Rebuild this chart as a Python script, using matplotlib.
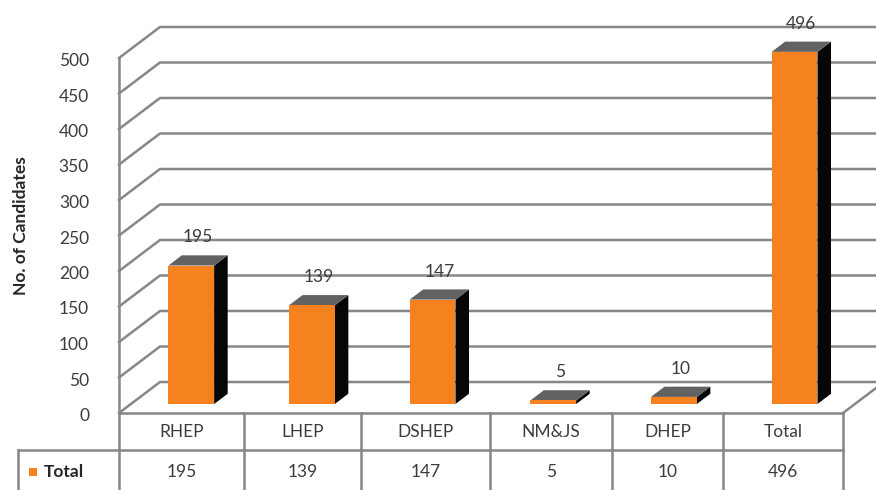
import matplotlib.pyplot as plt
from matplotlib.patches import Polygon, Rectangle

# data
categories = ['RHEP', 'LHEP', 'DSHEP', 'NM&JS', 'DHEP', 'Total']
totals = [195, 139, 147, 5, 10, 496]
series_name = 'Total'
y_ticks = list(range(0, 501, 50))
y_title = 'No. of Candidates'

orange = '#F5821F'
top_grey = '#626262'
side_black = '#060606'
grid_grey = '#878787'
text_grey = '#3C3C3C'

plt.rcParams['font.family'] = ['Lato', 'DejaVu Sans']

W, H = 876, 490
fig = plt.figure(figsize=(W / 100, H / 100), dpi=100)

# overlay in pixel units for the data table and axis title
ov = fig.add_axes([0, 0, 1, 1])
ov.set_xlim(0, W)
ov.set_ylim(H, 0)
ov.axis('off')

# front plane of the plot area, in pixels
x0, x1 = 119, 843
y0, y1 = 413, 58
ax = fig.add_axes([x0 / W, (H - y0) / H, (x1 - x0) / W, (y0 - y1) / H])
ax.set_xlim(0, len(categories))
ax.set_ylim(0, 500)
ax.axis('off')
ax.patch.set_alpha(0)

px_x = len(categories) / (x1 - x0)
px_y = 500 / (y0 - y1)
ddx = 41 * px_x   # depth offset of the back wall
ddy = 31 * px_y


def proj(x, v, d):
    return (x + ddx * d, v + ddy * d)


n = len(categories)
lw = 1.8

# side wall + back wall gridlines
for v in y_ticks:
    fx, fy = proj(0, v, 0)
    bx, by = proj(0, v, 1)
    ex, _ = proj(n, v, 1)
    ax.plot([fx, bx, ex], [fy, by, by], color=grid_grey, lw=lw,
            clip_on=False, zorder=1, solid_joinstyle='miter')

# front vertical axis and right floor edge
ax.plot([0, 0], [0, 500], color=grid_grey, lw=lw, clip_on=False, zorder=1)
rx0, ry0 = proj(n, 0, 0)
rx1, ry1 = proj(n, 0, 1)
ax.plot([rx0, rx1], [ry0, ry1], color=grid_grey, lw=lw, clip_on=False, zorder=1)

# tick labels
for v in y_ticks:
    ax.annotate(str(v), xy=(0, v), xytext=(-30, -3), textcoords='offset pixels',
                ha='right', va='center', fontsize=12.5, color=text_grey,
                annotation_clip=False)

# 3d bars
d0, d1 = 0.29, 0.62
bw = 0.38
for i, val in enumerate(totals):
    xl = i + 0.5 - bw / 2
    xr = i + 0.5 + bw / 2
    side = [proj(xr, 0, d0), proj(xr, 0, d1), proj(xr, val, d1), proj(xr, val, d0)]
    top = [proj(xl, val, d0), proj(xr, val, d0), proj(xr, val, d1), proj(xl, val, d1)]
    front = [proj(xl, 0, d0), proj(xr, 0, d0), proj(xr, val, d0), proj(xl, val, d0)]
    ax.add_patch(Polygon(side, closed=True, facecolor=side_black, edgecolor='none',
                         zorder=3, clip_on=False))
    ax.add_patch(Polygon(top, closed=True, facecolor=top_grey, edgecolor='none',
                         zorder=3, clip_on=False))
    ax.add_patch(Polygon(front, closed=True, facecolor=orange, edgecolor='none',
                         zorder=4, clip_on=False))
    ax.annotate(str(val), xy=proj(i + 0.5, val, (d0 + d1) / 2), xytext=(0, 23),
                textcoords='offset pixels', ha='center', va='center', fontsize=12.5,
                color=text_grey, zorder=5, annotation_clip=False)

# data table
cols = [119, 244, 361, 490, 612, 723, 843]
ty0, ty1, ty2 = 413, 450, 500
ov.plot([cols[0], cols[-1]], [ty0, ty0], color=grid_grey, lw=lw)
ov.plot([18, cols[-1]], [ty1, ty1], color=grid_grey, lw=lw)
ov.plot([18, 18], [ty1, ty2], color=grid_grey, lw=lw)
for c in cols:
    ov.plot([c, c], [ty0, ty2], color=grid_grey, lw=lw)
for i, (cat, val) in enumerate(zip(categories, totals)):
    cx = (cols[i] + cols[i + 1]) / 2
    ov.text(cx, 432, cat, ha='center', va='center', fontsize=12.5, color=text_grey)
    ov.text(cx, 472, str(val), ha='center', va='center', fontsize=12.5, color=text_grey)
ov.add_patch(Rectangle((29, 468), 8, 8, facecolor=orange, edgecolor='none'))
ov.text(44, 472, series_name, ha='left', va='center', fontsize=12.5,
        fontweight='bold', color='#262626')

# axis title
ov.text(21, 226, y_title, rotation=90, ha='center', va='center', fontsize=12.5,
        fontweight='bold', color='#262626')

fig.savefig('out.png', dpi=100)
